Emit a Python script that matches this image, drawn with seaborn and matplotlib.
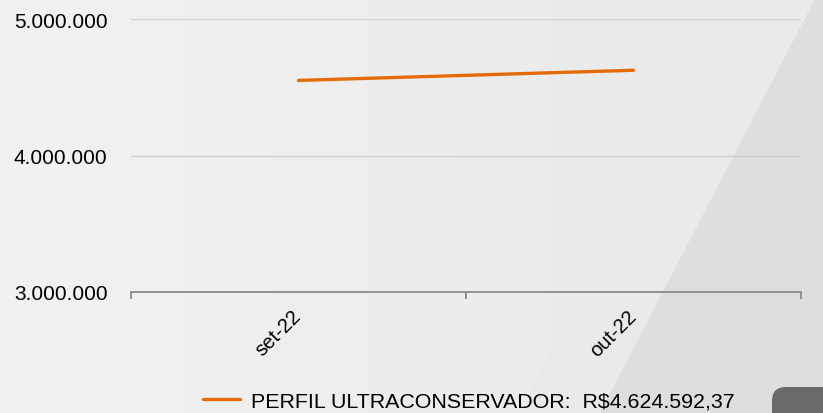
import numpy as np
import pandas as pd
import seaborn as sns
import matplotlib.pyplot as plt
from matplotlib.colors import LinearSegmentedColormap
from matplotlib.patches import Polygon, FancyBboxPatch

meses = ["set-22", "out-22"]
valores = [4550000, 4624592.37]
serie = "PERFIL ULTRACONSERVADOR:  R$4.624.592,37"
yticks = [3000000, 4000000, 5000000]

df = pd.DataFrame({"mes": meses, "valor": valores})

sns.set_theme(style="white")
plt.rcParams['font.family'] = ['Liberation Sans', 'DejaVu Sans']

fig = plt.figure(figsize=(8.23, 4.14), dpi=100)

# fundo cinza com faixa diagonal
bg = fig.add_axes([0, 0, 1, 1], zorder=-10)
bg.set_xlim(0, 823)
bg.set_ylim(414, 0)
bg.axis("off")
grad = np.linspace(0, 1, 256).reshape(1, -1)
bg.imshow(grad, cmap=LinearSegmentedColormap.from_list("g", ["#F2F2F3", "#E9E9EA"]),
          extent=[0, 823, 414, 0], aspect="auto")
bg.add_patch(Polygon([[735, 0], [823, 0], [823, 414], [520, 414]], closed=True, color="#EAEAEB", lw=0))
bg.add_patch(Polygon([[815, 0], [823, 0], [823, 414], [600, 414]], closed=True, color="#DEDEE0", lw=0))
bg.add_patch(FancyBboxPatch((772, 388), 80, 40, boxstyle="round,pad=0,rounding_size=14",
                            color="#6A6A6C", lw=0))

ax = fig.add_axes([131/823, 1 - 293/414, 670/823, 273/414])
ax.patch.set_alpha(0)
sns.lineplot(data=df, x="mes", y="valor", color="#E36C09", linewidth=2.4, ax=ax,
             label=serie, sort=False)

ax.set_xlim(-0.5, 1.5)
ax.set_ylim(3000000, 5000000)
ax.set_yticks(yticks)
ax.set_yticklabels([f"{v:,.0f}".replace(",", ".") for v in yticks])
ax.yaxis.grid(True, color="#D0D0D0", linewidth=1)
ax.set_xlabel("")
ax.set_ylabel("")
for s in ["top", "right", "left"]:
    ax.spines[s].set_visible(False)
ax.spines["bottom"].set_color("#8C8C8C")
ax.spines["bottom"].set_linewidth(1.3)

ax.set_xticks([0, 1])
ax.set_xticklabels(meses, rotation=45, ha="right", va="center", rotation_mode="anchor", fontsize=14.5)
ax.set_xticks([-0.5, 0.5, 1.5], minor=True)
ax.tick_params(axis="x", which="major", length=0, pad=15, labelcolor="black")
ax.tick_params(axis="x", which="minor", bottom=True, length=5, width=1.3, color="#8C8C8C")
ax.tick_params(axis="y", length=0, pad=17, labelsize=15, labelcolor="black")

leg = ax.legend(loc="center", bbox_to_anchor=(0.504, -0.4), frameon=False,
                fontsize=15.4, handlelength=1.75, handletextpad=0.5)
for t in leg.get_texts():
    t.set_color("black")

fig.savefig("out.png", dpi=100)
